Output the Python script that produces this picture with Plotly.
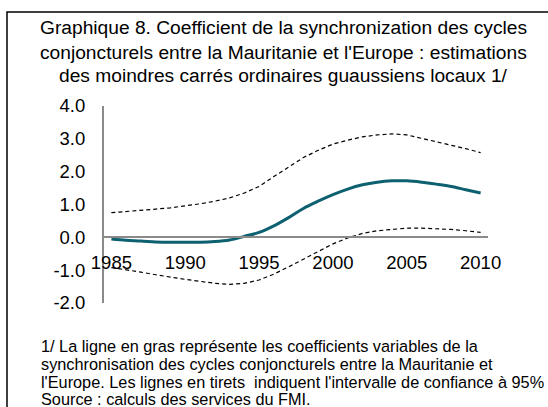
import plotly.graph_objects as go

years = list(range(1985, 2011))
coef = [-0.05, -0.09, -0.11, -0.14, -0.15, -0.15, -0.15, -0.13, -0.08, 0.03, 0.15, 0.35, 0.6, 0.88,
        1.1, 1.3, 1.47, 1.6, 1.68, 1.72, 1.72, 1.68, 1.62, 1.55, 1.45, 1.35]
upper = [0.75, 0.78, 0.82, 0.86, 0.9, 0.95, 1.02, 1.1, 1.2, 1.35, 1.55, 1.85, 2.15, 2.43,
         2.65, 2.84, 2.96, 3.06, 3.12, 3.15, 3.12, 3.02, 2.92, 2.8, 2.7, 2.58]
lower = [-0.92, -0.98, -1.06, -1.14, -1.22, -1.28, -1.34, -1.4, -1.43, -1.4, -1.3, -1.12, -0.9, -0.66,
         -0.42, -0.2, -0.02, 0.12, 0.2, 0.25, 0.28, 0.28, 0.27, 0.24, 0.2, 0.15]
x_ticks = [1985, 1990, 1995, 2000, 2005, 2010]
y_ticks = [-2, -1, 0, 1, 2, 3, 4]
title_lines = ["Graphique 8. Coefficient de la synchronization des cycles",
               "conjoncturels entre la Mauritanie et l'Europe : estimations",
               "des moindres carrés ordinaires guaussiens locaux 1/"]
note_lines = ["1/ La ligne en gras représente les coefficients variables de la",
              "synchronisation des cycles conjoncturels entre la Mauritanie et",
              "l'Europe. Les lignes en tirets  indiquent l'intervalle de confiance à 95%",
              "Source : calculs des services du FMI."]

W, H = 548, 407
L, R, T, B = 104, 60, 106, 104
pw, ph = W - L - R, H - T - B

def px(xp):
    return (xp - L) / pw

def py(yp):
    return (H - B - yp) / ph

FONT = "Liberation Sans, Arial, sans-serif"

fig = go.Figure()
dash_style = dict(color="black", width=1.2, dash="4px,3px")
fig.add_trace(go.Scatter(x=years, y=upper, mode="lines", line=dash_style, showlegend=False))
fig.add_trace(go.Scatter(x=years, y=lower, mode="lines", line=dash_style, showlegend=False))
fig.add_trace(go.Scatter(x=years, y=coef, mode="lines", line=dict(color="#0d6070", width=3, shape="spline"),
                         showlegend=False))

fig.update_layout(
    width=W, height=H,
    margin=dict(l=L, r=R, t=T, b=B),
    paper_bgcolor="white", plot_bgcolor="white",
    font=dict(family=FONT, color="black"),
    xaxis=dict(range=[1984.5, 2010.5], tickvals=x_ticks, ticktext=[str(v) for v in x_ticks],
               anchor="free", position=1/3, showline=True, linecolor="#8a8a8a", linewidth=2,
               showgrid=False, zeroline=False, ticks="outside", ticklen=8,
               tickcolor="rgba(0,0,0,0)", tickfont=dict(size=18.5, family=FONT, color="black")),
    yaxis=dict(range=[-2, 4], tickvals=y_ticks, ticktext=[f"{v:.1f}" for v in y_ticks],
               showline=True, linecolor="#8a8a8a", linewidth=2, showgrid=False, zeroline=False,
               ticks="outside", ticklen=13, tickcolor="rgba(0,0,0,0)",
               tickfont=dict(size=18.5, family=FONT, color="black")),
)

# frame border
fig.add_shape(type="rect", xref="paper", yref="paper",
              x0=px(7), x1=px(W + 20), y0=py(H + 20), y1=py(12),
              line=dict(color="black", width=1.5), layer="above")

title_y = [28, 52, 75.5]
for t, yv in zip(title_lines, title_y):
    fig.add_annotation(text=t, xref="paper", yref="paper", x=px(283.5), y=py(yv),
                       xanchor="center", yanchor="middle", showarrow=False,
                       font=dict(size=19.2, family=FONT, color="black"))

note_y = [346, 364, 381.5, 398.5]
for t, yv in zip(note_lines, note_y):
    fig.add_annotation(text=t, xref="paper", yref="paper", x=px(39), y=py(yv),
                       xanchor="left", yanchor="middle", showarrow=False,
                       font=dict(size=16.3, family=FONT, color="black"))

fig.write_html("out.html", config={"displayModeBar": False},
               post_script="document.body.style.margin='0';")
